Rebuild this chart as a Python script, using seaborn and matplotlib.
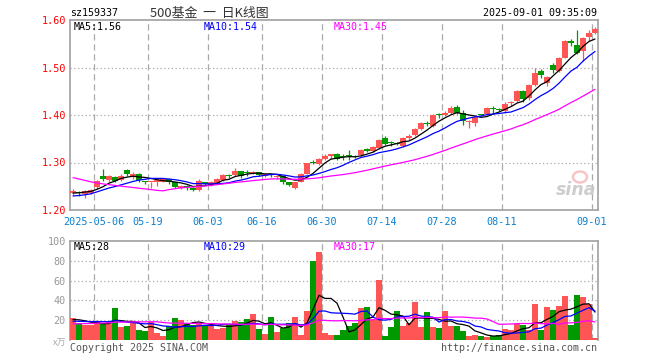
import numpy as np
import pandas as pd
import matplotlib
matplotlib.use("Agg")
import matplotlib.pyplot as plt
from matplotlib.patches import Ellipse
import seaborn as sns

# ---------------- data ----------------
opens = [1.236, 1.238, 1.233, 1.235, 1.248, 1.272, 1.263, 1.270, 1.264, 1.284,
         1.270, 1.276, 1.260, 1.258, 1.258, 1.260, 1.265, 1.258, 1.247, 1.250,
         1.247, 1.243, 1.258, 1.253, 1.256, 1.264, 1.274, 1.274, 1.282, 1.279,
         1.278, 1.280, 1.272, 1.274, 1.269, 1.272, 1.258, 1.247, 1.260, 1.276,
         1.302, 1.297, 1.308, 1.314, 1.318, 1.312, 1.314, 1.314, 1.316, 1.328,
         1.325, 1.330, 1.352, 1.342, 1.341, 1.334, 1.352, 1.358, 1.370, 1.384,
         1.376, 1.401, 1.401, 1.404, 1.417, 1.404, 1.386, 1.384, 1.401, 1.402,
         1.413, 1.412, 1.408, 1.425, 1.430, 1.451, 1.436, 1.464, 1.492, 1.467,
         1.505, 1.493, 1.521, 1.555, 1.548, 1.534, 1.564, 1.572]
highs = [1.245, 1.240, 1.242, 1.244, 1.264, 1.286, 1.274, 1.272, 1.275, 1.286,
         1.280, 1.278, 1.262, 1.260, 1.264, 1.266, 1.267, 1.260, 1.252, 1.252,
         1.249, 1.265, 1.260, 1.262, 1.267, 1.275, 1.276, 1.288, 1.283, 1.285,
         1.283, 1.281, 1.277, 1.276, 1.273, 1.273, 1.260, 1.260, 1.278, 1.300,
         1.306, 1.309, 1.318, 1.318, 1.320, 1.318, 1.326, 1.316, 1.329, 1.330,
         1.334, 1.350, 1.356, 1.346, 1.344, 1.353, 1.360, 1.372, 1.385, 1.388,
         1.402, 1.405, 1.408, 1.418, 1.422, 1.410, 1.390, 1.397, 1.403, 1.416,
         1.418, 1.414, 1.428, 1.430, 1.453, 1.453, 1.466, 1.499, 1.496, 1.482,
         1.510, 1.523, 1.558, 1.560, 1.580, 1.565, 1.578, 1.585]
lows = [1.232, 1.230, 1.226, 1.233, 1.245, 1.262, 1.260, 1.258, 1.262, 1.272,
        1.265, 1.258, 1.255, 1.246, 1.250, 1.258, 1.255, 1.247, 1.245, 1.242,
        1.240, 1.241, 1.252, 1.250, 1.255, 1.262, 1.268, 1.272, 1.268, 1.272,
        1.276, 1.272, 1.270, 1.270, 1.266, 1.255, 1.250, 1.244, 1.258, 1.275,
        1.296, 1.295, 1.305, 1.308, 1.305, 1.305, 1.306, 1.310, 1.314, 1.322,
        1.323, 1.328, 1.336, 1.335, 1.336, 1.332, 1.348, 1.356, 1.368, 1.376,
        1.374, 1.394, 1.398, 1.402, 1.402, 1.379, 1.373, 1.376, 1.397, 1.400,
        1.404, 1.408, 1.405, 1.418, 1.428, 1.428, 1.432, 1.462, 1.478, 1.462,
        1.488, 1.490, 1.520, 1.545, 1.528, 1.514, 1.555, 1.570]
closes = [1.239, 1.235, 1.240, 1.242, 1.262, 1.266, 1.272, 1.262, 1.271, 1.275,
          1.276, 1.263, 1.258, 1.260, 1.263, 1.265, 1.258, 1.249, 1.250, 1.248,
          1.242, 1.262, 1.254, 1.259, 1.265, 1.273, 1.272, 1.283, 1.272, 1.278,
          1.281, 1.274, 1.275, 1.273, 1.271, 1.259, 1.252, 1.259, 1.276, 1.298,
          1.300, 1.307, 1.314, 1.317, 1.307, 1.311, 1.313, 1.312, 1.327, 1.325,
          1.332, 1.348, 1.339, 1.341, 1.340, 1.351, 1.355, 1.370, 1.383, 1.382,
          1.400, 1.400, 1.405, 1.415, 1.405, 1.387, 1.388, 1.395, 1.400, 1.414,
          1.412, 1.410, 1.424, 1.428, 1.451, 1.433, 1.464, 1.488, 1.484, 1.481,
          1.495, 1.521, 1.556, 1.552, 1.531, 1.562, 1.573, 1.582]
volumes = [22, 17, 15, 15, 18, 17, 18, 32, 13, 14,
           17, 10, 9, 18, 7, 4, 14, 22, 20, 17,
           15, 17, 15, 15, 11, 12, 15, 19, 18, 21,
           26, 11, 6, 23, 8, 12, 17, 23, 5, 29,
           80, 89, 7, 5, 5, 10, 14, 17, 32, 33,
           20, 61, 4, 13, 29, 14, 17, 38, 13, 28,
           13, 12, 29, 14, 14, 9, 4, 5, 4, 3,
           4, 5, 11, 10, 16, 15, 10, 36, 10, 33,
           30, 34, 44, 15, 45, 43, 36, 2]
# estimated closes / volumes before the visible window (only used to seed the moving averages)
prior_closes = [1.320, 1.330, 1.335, 1.330, 1.325, 1.320, 1.310, 1.315, 1.320, 1.318,
                1.310, 1.300, 1.305, 1.310, 1.295, 1.180, 1.190, 1.200, 1.215, 1.220,
                1.225, 1.225, 1.220, 1.222, 1.225, 1.232, 1.232, 1.235, 1.240]
prior_volumes = [12, 12, 11, 10, 12, 12, 11, 11, 12, 11, 10, 11, 12, 11, 24,
                 30, 26, 22, 20, 19, 18, 17, 16, 17, 19, 18, 20, 22, 21]

# legend values as printed on the reference
price_ma_labels = ["MA5:1.56", "MA10:1.54", "MA30:1.45"]
vol_ma_labels = ["MA5:28", "MA10:29", "MA30:17"]

tick_bars = [4, 13, 23, 32, 42, 52, 62, 72, 87]
tick_labels = ["2025-05-06", "05-19", "06-03", "06-16", "06-30",
               "07-14", "07-28", "08-11", "09-01"]
price_ticks = [1.20, 1.30, 1.40, 1.50, 1.60]
price_tick_labels = ["1.20", "1.30", "1.40", "1.50", "1.60"]
vol_ticks = [20, 40, 60, 80, 100]
vol_tick_labels = ["20", "40", "60", "80", "100"]

# ---------------- derived ----------------
n = len(closes)
idx = np.arange(n)
o = np.array(opens); h = np.array(highs); l = np.array(lows); c = np.array(closes)
v = np.array(volumes, dtype=float)
all_c = pd.Series(list(prior_closes) + list(closes))
all_v = pd.Series(list(prior_volumes) + list(volumes), dtype=float)
np_ = len(prior_closes)
ma5 = all_c.rolling(5).mean().values[np_:]
ma10 = all_c.rolling(10).mean().values[np_:]
ma30 = all_c.rolling(30).mean().values[np_:]
vma5 = all_v.rolling(5).mean().values[np_:]
vma10 = all_v.rolling(10).mean().values[np_:]
vma30 = all_v.rolling(30).mean().values[np_:]

RED = "#FF5555"
GREEN = "#009900"
up = c >= o
cols = np.where(up, RED, GREEN)

sns.set_style("white")
plt.rcParams["font.family"] = ["DejaVu Sans Mono", "DejaVu Sans"]
MONO = ["DejaVu Sans Mono", "DejaVu Sans"]
CJK = ["Noto Sans CJK SC", "DejaVu Sans"]

W, H = 660, 360
fig = plt.figure(figsize=(6.6, 3.6), dpi=100)

def fx(px):
    return px / W

def fy(py):
    return 1 - py / H

ax = fig.add_axes([fx(70), fy(210), fx(528), 190 / H])
axv = fig.add_axes([fx(70), fy(340), fx(528), 99 / H])

SPINE = "#A0A0A0"
GRID = "#AAAAAA"

# ---------- price panel ----------
ax.vlines(idx, l, h, colors=cols, linewidth=0.9, zorder=3)
body_lo = np.minimum(o, c)
body_h = np.maximum(np.abs(c - o), 0.0018)
ax.bar(idx, body_h, bottom=body_lo, width=0.84, color=cols, linewidth=0, zorder=4)

df = pd.DataFrame({"i": idx, "ma5": ma5, "ma10": ma10, "ma30": ma30})
sns.lineplot(data=df, x="i", y="ma5", ax=ax, color="black", linewidth=0.9, zorder=5)
sns.lineplot(data=df, x="i", y="ma10", ax=ax, color="#0000FF", linewidth=0.9, zorder=5)
sns.lineplot(data=df, x="i", y="ma30", ax=ax, color="#FF00FF", linewidth=0.9, zorder=5)

ax.set_xlim(-0.5, n - 0.5)
ax.set_ylim(1.20, 1.60)
ax.set_xlabel(""); ax.set_ylabel("")
ax.set_yticks(price_ticks)
ax.set_yticklabels(price_tick_labels, color="#FF0000", fontsize=7.3, family=MONO)
ax.set_xticks(np.array(tick_bars) - 0.5)
ax.set_xticklabels(tick_labels, color="#0A7FD0", fontsize=7.3, family=MONO)
ax.tick_params(axis="both", length=0)
ax.tick_params(axis="y", pad=3)
ax.tick_params(axis="x", pad=5)
for yv in [1.30, 1.40, 1.50]:
    ax.axhline(yv, color=GRID, linestyle=(0, (1, 2)), linewidth=0.9, zorder=1)
for t in tick_bars:
    ax.axvline(t - 0.5, color=GRID, linestyle=(0, (5, 3)), linewidth=0.9, zorder=1)
for s in ax.spines.values():
    s.set_color(SPINE); s.set_linewidth(1.2)

# ---------- volume panel ----------
axv.bar(idx, v, width=0.84, color=cols, linewidth=0, zorder=3)
dvm = pd.DataFrame({"i": idx, "v5": vma5, "v10": vma10, "v30": vma30})
sns.lineplot(data=dvm, x="i", y="v5", ax=axv, color="black", linewidth=0.9, zorder=5)
sns.lineplot(data=dvm, x="i", y="v10", ax=axv, color="#0000FF", linewidth=0.9, zorder=5)
sns.lineplot(data=dvm, x="i", y="v30", ax=axv, color="#FF00FF", linewidth=0.9, zorder=5)
axv.set_xlim(-0.5, n - 0.5)
axv.set_ylim(0, 100)
axv.set_xlabel(""); axv.set_ylabel("")
axv.set_xticks([])
axv.set_yticks(vol_ticks)
axv.set_yticklabels(vol_tick_labels, color="#999999", fontsize=7.3, family=MONO)
axv.tick_params(axis="both", length=0, pad=3)
for yv in [20, 40, 60, 80]:
    axv.axhline(yv, color=GRID, linestyle=(0, (1, 2)), linewidth=0.9, zorder=1)
for t in tick_bars:
    axv.axvline(t - 0.5, color=GRID, linestyle=(0, (5, 3)), linewidth=0.9, zorder=1)
for k, s in axv.spines.items():
    s.set_color(SPINE); s.set_linewidth(1.2)
axv.spines["bottom"].set_visible(False)

# ---------- texts ----------
fig.text(fx(70), fy(13), "sz159337", fontsize=7.2, family=MONO, color="black",
         ha="left", va="center")
fig.text(fx(209), fy(13), "500基金  一  日K线图", fontsize=9.3,
         family=CJK, color="#333333", ha="center", va="center")
fig.text(fx(597), fy(13), "2025-09-01 09:35:09", fontsize=7.2, family=MONO,
         color="black", ha="right", va="center")

label_x = [74, 204, 334]
label_c = ["black", "#0000FF", "#FF00FF"]
for xx, txt, cc in zip(label_x, price_ma_labels, label_c):
    fig.text(fx(xx), fy(27), txt, fontsize=7.2, family=MONO, color=cc, ha="left", va="center")
for xx, txt, cc in zip(label_x, vol_ma_labels, label_c):
    fig.text(fx(xx), fy(247), txt, fontsize=7.2, family=MONO, color=cc, ha="left", va="center")

fig.text(fx(66), fy(343), "x万", fontsize=6.5, family=CJK,
         color="#AAAAAA", ha="right", va="center")
fig.text(fx(70), fy(348), "Copyright 2025 SINA.COM", fontsize=7.2, family=MONO,
         color="#555555", ha="left", va="center")
fig.text(fx(597), fy(348), "http://finance.sina.com.cn", fontsize=7.2, family=MONO,
         color="#555555", ha="right", va="center")

# sina watermark
fig.patches.append(Ellipse((fx(580), fy(177)), 14 / W, 11 / H, transform=fig.transFigure,
                           facecolor="none", edgecolor="#F4B8B8", linewidth=1.8, alpha=0.8))
fig.text(fx(576), fy(190), "sina", fontsize=12.5, fontweight="bold", fontstyle="italic",
         family="DejaVu Sans", color="#C8C8C8", ha="center", va="center", alpha=0.9)

fig.savefig("out.png", dpi=100)
